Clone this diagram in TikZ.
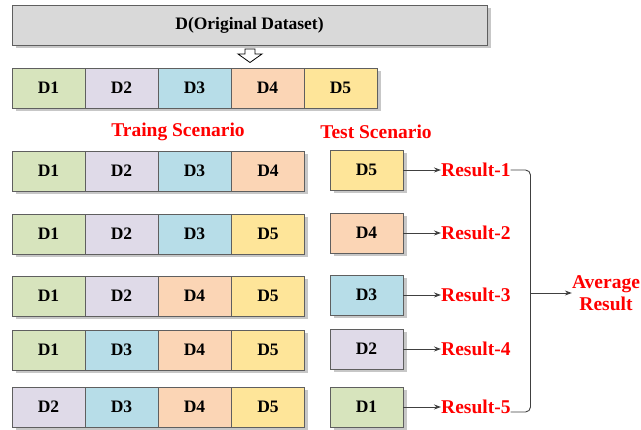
\documentclass[tikz,border=0pt]{standalone}
\usepackage{fontspec}
\setmainfont{Liberation Serif}
\usetikzlibrary{shadows,arrows.meta}
\definecolor{cA}{HTML}{D7E4BD}
\definecolor{cB}{HTML}{DFDAE8}
\definecolor{cC}{HTML}{B7DDE8}
\definecolor{cD}{HTML}{FBD5B5}
\definecolor{cE}{HTML}{FEE599}
\definecolor{cTop}{HTML}{D9D9D9}
\definecolor{edge}{HTML}{5F5F5F}
\tikzset{
  cell/.style={draw=edge, line width=0.9pt, minimum width=73pt, minimum height=40pt,
    inner sep=0pt, font=\fontsize{17.5}{20}\selectfont\bfseries,
    drop shadow={shadow xshift=3.5pt, shadow yshift=-3.5pt, fill=black!22, opacity=1}},
  redlbl/.style={text=red, font=\fontsize{19.5}{21}\selectfont\bfseries, inner sep=0pt},
  conn/.style={draw=black!75, line width=0.9pt, -{Stealth[length=7pt,width=5pt]}}
}
\begin{document}
\begin{tikzpicture}[x=1pt,y=-1pt]
\useasboundingbox (0,0) rectangle (641,430);

% whole dataset
\node[cell, fill=cTop, minimum width=475pt, minimum height=40pt] (top) at (249.5,25) {D(Original Dataset)};

% hollow down arrow
\draw[black, line width=0.8pt, fill=white] (245,49) -- (255,49) -- (255,54) -- (262,54)
  -- (250,62.5) -- (238,54) -- (245,54) -- cycle;

% five folds
\foreach \lab/\col [count=\i] in {D1/cA,D2/cB,D3/cC,D4/cD,D5/cE}{
  \node[cell, fill=\col] (f\i) at ({12+36.5+73*(\i-1)},88) {\lab};
}

% headings
\node[redlbl] (trainhead) at (178,132) {Traing Scenario};
\node[redlbl] (testhead) at (376,132) {Test Scenario};

% training rows
\foreach \y/\la/\ca/\lb/\cb/\lc/\cc/\ld/\cd [count=\r] in {
  171/D1/cA/D2/cB/D3/cC/D4/cD,
  234/D1/cA/D2/cB/D3/cC/D5/cE,
  296/D1/cA/D2/cB/D4/cD/D5/cE,
  350/D1/cA/D3/cC/D4/cD/D5/cE,
  407/D2/cB/D3/cC/D4/cD/D5/cE}{
  \node[cell, fill=\ca] (t\r a) at (48.5,\y) {\la};
  \node[cell, fill=\cb] (t\r b) at (121.5,\y) {\lb};
  \node[cell, fill=\cc] (t\r c) at (194.5,\y) {\lc};
  \node[cell, fill=\cd] (t\r d) at (268,\y) {\ld};
}

% test folds and their results
\foreach \y/\lab/\col [count=\r] in {170/D5/cE,233/D4/cD,295/D3/cC,349/D2/cB,407/D1/cA}{
  \node[cell, fill=\col] (s\r) at (366.5,\y) {\lab};
  \node[redlbl, anchor=west] (res\r) at (441,\y) {Result-\r};
  \draw[conn] (s\r.east) -- (res\r.west);
}

% averaging bracket
\node[redlbl, align=center, font=\fontsize{19.5}{22}\selectfont\bfseries] (avg) at (606,293) {Average\\Result};
\coordinate (btop) at (530.5,170);
\coordinate (bbot) at (530.5,412);
\draw[draw=black!75, line width=0.9pt, rounded corners=5pt] (res1.east) -- (btop) -- (bbot) -- (res5.east |- bbot);
\draw[conn] (btop |- avg) -- (avg.west);
\end{tikzpicture}
\end{document}
